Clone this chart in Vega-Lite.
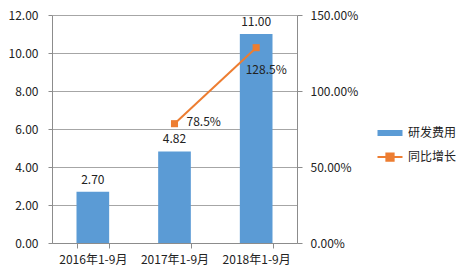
{
  "$schema": "https://vega.github.io/schema/vega-lite/v6.json",
  "width": 245,
  "height": 228,
  "autosize": {"type": "none"},
  "padding": {"left": 52, "top": 15, "right": 171, "bottom": 33},
  "background": "white",
  "config": {
    "view": {"stroke": null},
    "font": "Noto Sans CJK SC",
    "axis": {"labelFont": "Noto Sans CJK SC", "labelFontSize": 12, "labelColor": "#222222", "domainColor": "#8c8c8c", "tickColor": "#8c8c8c", "gridColor": "#a6a6a6", "title": null, "labelOverlap": false},
    "text": {"font": "Noto Sans CJK SC", "fontSize": 12, "color": "#222222"}
  },
  "data": {
    "values": [
      {"period": "2016年1-9月", "rd": 2.70, "growth": null},
      {"period": "2017年1-9月", "rd": 4.82, "growth": 0.785},
      {"period": "2018年1-9月", "rd": 11.00, "growth": 1.285}
    ]
  },
  "encoding": {
    "x": {
      "field": "period", "type": "nominal", "sort": null,
      "scale": {"paddingInner": 0.6, "paddingOuter": 0.3},
      "axis": {"labelAngle": 0, "tickBand": "extent", "tickSize": 5, "labelPadding": 6, "domainColor": "#8c8c8c", "grid": false}
    }
  },
  "layer": [
    {
      "encoding": {
        "y": {
          "field": "rd", "type": "quantitative",
          "scale": {"domain": [0, 12], "nice": false},
          "axis": {"values": [0, 2, 4, 6, 8, 10, 12], "tickCount": 12, "format": ".2f", "grid": true, "tickSize": 4, "labelPadding": 10, "orient": "left", "labelOverlap": false}
        }
      },
      "layer": [
        {
          "mark": {"type": "bar", "color": "#5B9BD5"},
          "encoding": {
            "color": {
              "datum": "研发费用",
              "scale": {"domain": ["研发费用", "同比增长"], "range": ["#5B9BD5", "#ED7D31"]},
              "legend": {
                "title": null,
                "orient": "none",
                "legendX": 332,
                "legendY": 112,
                "padding": 0,
                "symbolSize": 625,
                "labelFontSize": 12,
                "labelFont": "Noto Sans CJK SC",
                "labelColor": "#222222",
                "labelOffset": 12,
                "rowPadding": 10,
                "encode": {
                  "symbols": {
                    "update": {
                      "shape": {"signal": "datum.value === '研发费用' ? 'M-1,-0.24H1V0.24H-1Z' : 'M-1,0H1M-0.29,-0.29H0.29V0.29H-0.29Z'"},
                      "fill": {"signal": "datum.value === '研发费用' ? '#5B9BD5' : '#ED7D31'"},
                      "stroke": {"signal": "datum.value === '研发费用' ? null : '#ED7D31'"},
                      "strokeWidth": {"signal": "datum.value === '研发费用' ? 0 : 2"},
                      "opacity": {"value": 1}
                    }
                  }
                }
              }
            }
          }
        },
        {
          "mark": {"type": "text", "baseline": "middle", "dy": -12, "align": "center"},
          "encoding": {
            "text": {"field": "rd", "type": "quantitative", "format": ".2f"}
          }
        }
      ]
    },
    {
      "transform": [{"filter": "datum.growth != null"}],
      "encoding": {
        "y": {
          "field": "growth", "type": "quantitative",
          "scale": {"domain": [0, 1.5], "nice": false},
          "axis": {"values": [0, 0.5, 1, 1.5], "tickCount": 10, "format": ".2%", "grid": false, "orient": "right", "tickSize": 5, "labelPadding": 8}
        }
      },
      "layer": [
        {
          "mark": {"type": "line", "color": "#ED7D31", "strokeWidth": 2, "point": {"shape": "square", "size": 50, "filled": true, "color": "#ED7D31"}},
          "encoding": {
            "color": {"datum": "同比增长"}
          }
        },
        {
          "transform": [{"filter": "datum.period === '2017年1-9月'"}],
          "mark": {"type": "text", "align": "left", "baseline": "middle", "dx": 12, "dy": -2},
          "encoding": {
            "text": {"field": "growth", "type": "quantitative", "format": ".1%"}
          }
        },
        {
          "transform": [{"filter": "datum.period === '2018年1-9月'"}],
          "mark": {"type": "text", "align": "center", "baseline": "middle", "dx": 10, "dy": 22},
          "encoding": {
            "text": {"field": "growth", "type": "quantitative", "format": ".1%"}
          }
        }
      ]
    }
  ],
  "resolve": {"scale": {"y": "independent"}}
}
